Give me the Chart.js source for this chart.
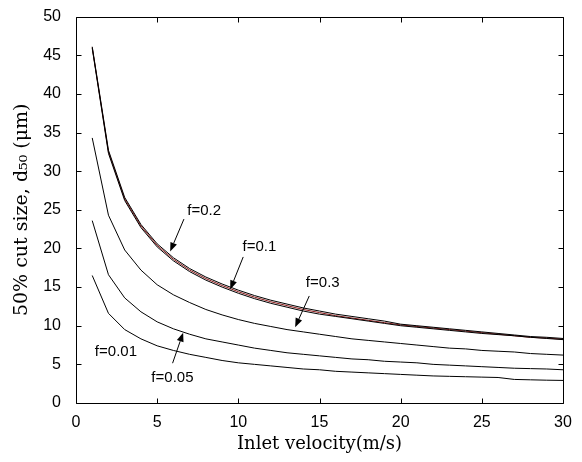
<!DOCTYPE html>
<html>
<head>
<meta charset="utf-8">
<script src="https://cdn.jsdelivr.net/npm/chart.js@4/dist/chart.umd.min.js"></script>
<style>
  html, body { margin: 0; padding: 0; background: #fff; }
  #wrap { width: 582px; height: 462px; }
</style>
</head>
<body>
<div id="wrap"><canvas id="c" width="582" height="462"></canvas></div>
<script>
// ---- data ----
const velocity = [1,2,3,4,5,6,7,8,9,10,11,12,13,14,15,16,17,18,19,20,21,22,23,24,25,26,27,28,29,30];
const d50_f02_upper = [46.1,32.7,26.6,23.1,20.6,18.8,17.4,16.3,15.4,14.6,13.9,13.3,12.8,12.3,11.9,11.5,11.2,10.9,10.6,10.2,10.0,9.8,9.6,9.4,9.2,9.0,8.8,8.6,8.5,8.35];
const d50_f02_red   = [46.0,32.5,26.4,22.9,20.4,18.6,17.2,16.1,15.2,14.4,13.7,13.1,12.6,12.1,11.7,11.3,11.0,10.7,10.4,10.1,9.9,9.7,9.5,9.3,9.1,8.9,8.7,8.5,8.4,8.25];
const d50_f01       = [45.9,32.3,26.2,22.7,20.2,18.4,17.0,15.9,15.0,14.2,13.5,12.9,12.4,11.9,11.5,11.2,10.9,10.6,10.3,10.0,9.8,9.6,9.4,9.2,9.0,8.85,8.7,8.5,8.35,8.2];
const d50_f03       = [34.3,24.3,19.8,17.2,15.3,14.0,13.0,12.1,11.4,10.8,10.3,9.9,9.5,9.2,8.9,8.6,8.3,8.1,7.9,7.7,7.5,7.3,7.1,7.0,6.8,6.7,6.6,6.4,6.3,6.2];
const d50_f005      = [23.6,16.6,13.6,11.8,10.5,9.6,8.9,8.3,7.9,7.5,7.1,6.8,6.5,6.3,6.1,5.9,5.7,5.6,5.4,5.3,5.2,5.0,4.9,4.8,4.7,4.6,4.5,4.45,4.4,4.3];
const d50_f001      = [16.5,11.6,9.5,8.3,7.4,6.8,6.3,5.9,5.5,5.2,5.0,4.8,4.6,4.4,4.3,4.1,4.0,3.9,3.8,3.7,3.6,3.5,3.45,3.4,3.35,3.3,3.05,3.0,2.95,2.92];
const xTicks = [0,5,10,15,20,25,30];
const yTicks = [0,5,10,15,20,25,30,35,40,45,50];
const xTitle = 'Inlet velocity(m/s)';
const yTitle = '50% cut size, d\u2085\u2080 (\u03bcm)';

// annotation labels (text, text anchor, optional arrow from -> to, in data units)
const labels = [
  { text: 'f=0.2',  at: [7.9, 24.9],  from: [6.65, 23.8], to: [5.8, 19.6] },
  { text: 'f=0.1',  at: [11.3, 20.2], from: [10.3, 18.9], to: [9.5, 14.7] },
  { text: 'f=0.3',  at: [15.2, 15.5], from: [14.37, 13.85], to: [13.5, 9.8] },
  { text: 'f=0.01', at: [2.46, 6.6] },
  { text: 'f=0.05', at: [5.94, 3.2],  from: [5.95, 5.15], to: [6.6, 9.1] }
];

const pts = arr => arr.map((v, i) => ({ x: velocity[i], y: v }));
const line = (label, arr, color) => ({
  label, data: pts(arr), borderColor: color, backgroundColor: color,
  borderWidth: 1, pointRadius: 0, tension: 0, fill: false
});

const frame = {
  id: 'frame',
  afterDraw(chart) {
    const { ctx, chartArea: a, scales: { x, y } } = chart;
    ctx.save();
    ctx.strokeStyle = '#000';
    ctx.lineWidth = 1;
    const L = Math.round(a.left) + 0.5, R = Math.round(a.right) + 0.5;
    const T = Math.round(a.top) + 0.5, B = Math.round(a.bottom) + 0.5;
    ctx.beginPath();
    ctx.rect(L, T, R - L, B - T);
    const tl = 5;
    xTicks.forEach(v => {
      const px = Math.round(x.getPixelForValue(v)) + 0.5;
      ctx.moveTo(px, B); ctx.lineTo(px, B - tl);
      ctx.moveTo(px, T); ctx.lineTo(px, T + tl);
    });
    yTicks.forEach(v => {
      const py = Math.round(y.getPixelForValue(v)) + 0.5;
      ctx.moveTo(L, py); ctx.lineTo(L + tl, py);
      ctx.moveTo(R, py); ctx.lineTo(R - tl, py);
    });
    ctx.stroke();

    // annotations
    ctx.fillStyle = '#000';
    ctx.font = '15px "Liberation Sans", Arial, sans-serif';
    ctx.textAlign = 'center';
    ctx.textBaseline = 'middle';
    labels.forEach(l => {
      ctx.fillText(l.text, x.getPixelForValue(l.at[0]), y.getPixelForValue(l.at[1]));
      if (l.from) {
        const x0 = x.getPixelForValue(l.from[0]), y0 = y.getPixelForValue(l.from[1]);
        const x1 = x.getPixelForValue(l.to[0]), y1 = y.getPixelForValue(l.to[1]);
        const ang = Math.atan2(y1 - y0, x1 - x0);
        const hl = 9, hw = 3.5;
        const bx = x1 - hl * Math.cos(ang), by = y1 - hl * Math.sin(ang);
        ctx.beginPath();
        ctx.moveTo(x0, y0); ctx.lineTo(bx, by);
        ctx.stroke();
        ctx.beginPath();
        ctx.moveTo(x1, y1);
        ctx.lineTo(bx + hw * Math.sin(ang), by - hw * Math.cos(ang));
        ctx.lineTo(bx - hw * Math.sin(ang), by + hw * Math.cos(ang));
        ctx.closePath();
        ctx.fill();
      }
    });
    ctx.restore();
  }
};

new Chart(document.getElementById('c'), {
  type: 'line',
  data: {
    datasets: [
      line('f=0.2', d50_f02_upper, '#000'),
      line('f=0.1', d50_f01, '#000'),
      line('f=0.2 (red)', d50_f02_red, '#8b1a1a'),
      line('f=0.3', d50_f03, '#000'),
      line('f=0.05', d50_f005, '#000'),
      line('f=0.01', d50_f001, '#000')
    ]
  },
  options: {
    responsive: false,
    animation: false,
    layout: { padding: { left: 0, right: 19, top: 14, bottom: 0 } },
    plugins: { legend: { display: false }, tooltip: { enabled: false } },
    scales: {
      x: {
        type: 'linear', min: 0, max: 30,
        afterBuildTicks: s => { s.ticks = xTicks.map(v => ({ value: v })); },
        afterFit: s => { s.height = 59; },
        grid: { display: false }, border: { display: false },
        ticks: { padding: 2, color: '#000', font: { family: '"Liberation Sans", Arial, sans-serif', size: 16 } },
        title: { display: true, text: xTitle, color: '#000', padding: { top: 0, bottom: 7 },
                 font: { family: '"DejaVu Serif", serif', size: 18 } }
      },
      y: {
        type: 'linear', min: 0, max: 50,
        afterBuildTicks: s => { s.ticks = yTicks.map(v => ({ value: v })); },
        afterFit: s => { s.width = 76; },
        grid: { display: false }, border: { display: false },
        ticks: { padding: 7, color: '#000', font: { family: '"Liberation Sans", Arial, sans-serif', size: 16 } },
        title: { display: true, text: yTitle, color: '#000', padding: { top: 11, bottom: 0 },
                 font: { family: '"DejaVu Serif", serif', size: 19 } }
      }
    }
  },
  plugins: [frame]
});
</script>
</body>
</html>
